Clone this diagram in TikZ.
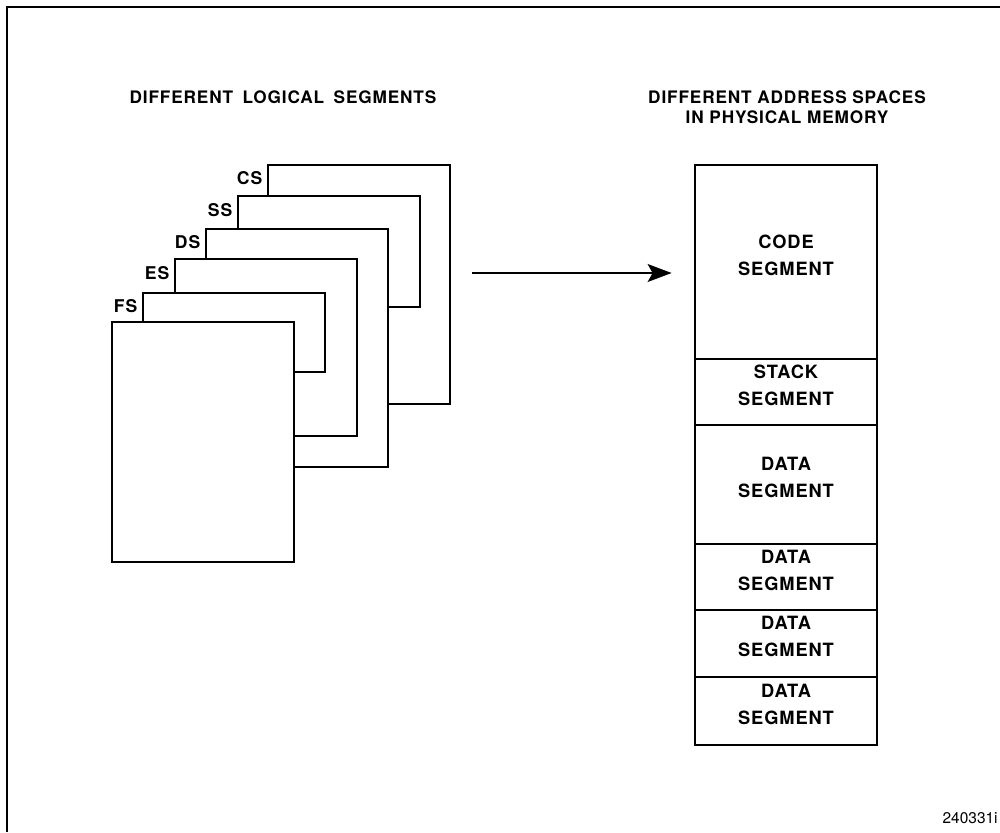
\documentclass[tikz,border=0pt]{standalone}
\usepackage{fontspec}
\setmainfont{TeX Gyre Heros}
\newfontfamily\spaced[LetterSpace=5]{TeX Gyre Heros}
\usetikzlibrary{fit,calc,arrows.meta}

\tikzset{
  frameline/.style={line width=1.3pt},
  pagebox/.style={draw, fill=white, line width=1.6pt, inner sep=0pt},
  membox/.style={draw, line width=1.6pt, inner sep=0pt, align=center,
    font=\spaced\bfseries\fontsize{10.4}{15.4}\selectfont},
  seglabel/.style={anchor=east, inner sep=0pt,
    font=\spaced\bfseries\fontsize{10}{10}\selectfont},
  titletext/.style={align=center, inner sep=0pt,
    font=\spaced\bfseries\fontsize{9.8}{11.4}\selectfont},
  mapsto/.style={line width=0.8pt,
    -{Stealth[length=0.48cm, width=0.36cm, inset=0.1cm]}},
}

\begin{document}
\begin{tikzpicture}[x=0.02cm, y=-0.02cm]
\useasboundingbox (0,0) rectangle (1000,832);

% outer frame (top and left edges)
\coordinate (fbl) at (7,832);
\coordinate (ftl) at (7,7);
\coordinate (ftr) at (1000,7);
\draw[frameline] (fbl) -- (ftl) -- (ftr);

% titles
\node[titletext] (ltitle) at (283,97) {DIFFERENT\hspace{0.55em}LOGICAL\hspace{0.55em}SEGMENTS};
\node[titletext] (rtitle) at (787,107) {DIFFERENT ADDRESS SPACES\\IN PHYSICAL MEMORY};

% logical segments, drawn from back to front
\node[pagebox, fit={(268,165)(450,404)}] (cs) {};
\node[pagebox, fit={(238,196)(420,307)}] (ss) {};
\node[pagebox, fit={(206,229)(388,467)}] (ds) {};
\node[pagebox, fit={(175,259)(357,436)}] (es) {};
\node[pagebox, fit={(143,293)(325,372)}] (fs) {};
\node[pagebox, fit={(112,322)(294,562)}] (gs) {};

% segment register names
\node[seglabel] (cslbl) at ($(cs.north west)+(-4,14)$) {CS};
\node[seglabel] (sslbl) at ($(ss.north west)+(-4,15)$) {SS};
\node[seglabel] (dslbl) at ($(ds.north west)+(-4,14)$) {DS};
\node[seglabel] (eslbl) at ($(es.north west)+(-4,15)$) {ES};
\node[seglabel] (fslbl) at ($(fs.north west)+(-4,14)$) {FS};

% physical memory column
\node[membox, fit={(695,165)(877,359)}] (code) {CODE\\SEGMENT};
\node[membox, fit={(695,359)(877,425)}] (stack) {STACK\\SEGMENT};
\node[membox, fit={(695,425)(877,544)}] (data1) {DATA\\SEGMENT};
\node[membox, fit={(695,544)(877,610)}] (data2) {DATA\\SEGMENT};
\node[membox, fit={(695,610)(877,677)}] (data3) {DATA\\SEGMENT};
\node[membox, fit={(695,677)(877,745)}] (data4) {DATA\\SEGMENT};

% mapping arrow
\coordinate (mapfrom) at (472,273);
\coordinate (mapto) at ($(code.west |- mapfrom)+(-22,0)$);
\draw[mapsto] (mapfrom) -- (mapto);

% figure number
\node[anchor=east, inner sep=0pt, font=\fontsize{8.8}{10}\selectfont] (fignum) at (998,818) {240331i};
\end{tikzpicture}
\end{document}
